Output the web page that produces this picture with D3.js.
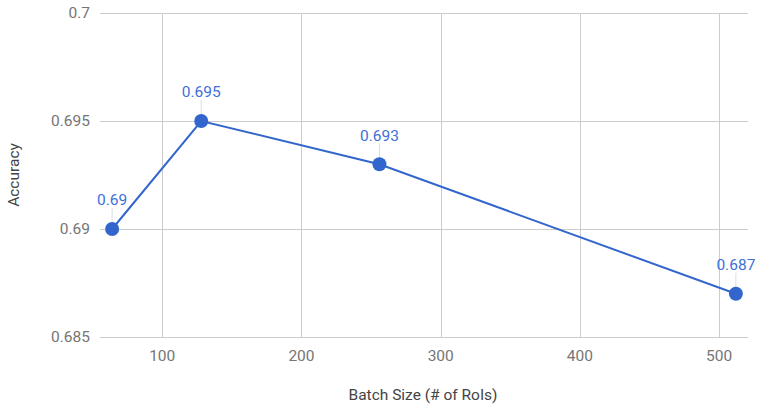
<!DOCTYPE html>
<html><head><meta charset="utf-8">
<script src="https://cdn.jsdelivr.net/npm/d3@7"></script>
<style>body{margin:0;background:#fff;} text{font-family:Roboto,Arial,sans-serif;}</style>
</head><body><svg id="c" width="759" height="409"></svg>
<script>
const batchSizes = [64, 128, 256, 512];
const accuracy = [0.69, 0.695, 0.693, 0.687];
const labels = ["0.69", "0.695", "0.693", "0.687"];
const yTicks = [0.685, 0.69, 0.695, 0.7];
const yTickLabels = ["0.685", "0.69", "0.695", "0.7"];
const xTicks = [100, 200, 300, 400, 500];

const svg = d3.select("#c");
const pL = 100, pR = 748, pT = 13, pB = 337;
const fs = 15.5;
const x = d3.scaleLinear().domain([55.3, 520.7]).range([pL, pR]);
const y = d3.scaleLinear().domain([0.685, 0.7]).range([pB, pT]);

const g = svg.append("g");
g.selectAll(".hg").data(yTicks).enter().append("line")
  .attr("x1", pL).attr("x2", pR)
  .attr("y1", d => Math.round(y(d)) + 0.5).attr("y2", d => Math.round(y(d)) + 0.5)
  .attr("stroke", "#cccccc").attr("stroke-width", 1);
g.selectAll(".vg").data(xTicks).enter().append("line")
  .attr("x1", d => Math.round(x(d)) + 0.5).attr("x2", d => Math.round(x(d)) + 0.5)
  .attr("y1", pT).attr("y2", pB)
  .attr("stroke", "#cccccc").attr("stroke-width", 1);

g.selectAll(".yl").data(yTicks).enter().append("text")
  .attr("x", 90).attr("y", d => y(d)).attr("dy", "0.35em")
  .attr("text-anchor", "end").attr("font-size", fs).attr("fill", "#757575")
  .text((d, i) => yTickLabels[i]);
g.selectAll(".xl").data(xTicks).enter().append("text")
  .attr("x", d => x(d)).attr("y", 356).attr("dy", "0.35em")
  .attr("text-anchor", "middle").attr("font-size", fs).attr("fill", "#757575")
  .text(d => d);

svg.append("text").attr("x", 423).attr("y", 395).attr("dy", "0.35em")
  .attr("text-anchor", "middle").attr("font-size", fs).attr("fill", "#444")
  .text("Batch Size (# of RoIs)");
svg.append("text").attr("transform", `translate(14,${(pT + pB) / 2}) rotate(-90)`)
  .attr("dy", "0.35em").attr("text-anchor", "middle").attr("font-size", fs).attr("fill", "#444")
  .text("Accuracy");

const data = batchSizes.map((b, i) => ({ x: b, y: accuracy[i], label: labels[i] }));

g.selectAll(".stem").data(data).enter().append("line")
  .attr("x1", d => x(d.x)).attr("x2", d => x(d.x))
  .attr("y1", d => y(d.y)).attr("y2", d => y(d.y) - 21)
  .attr("stroke", "#dddddd").attr("stroke-width", 1);

g.append("path").datum(data)
  .attr("d", d3.line().x(d => x(d.x)).y(d => y(d.y)))
  .attr("fill", "none").attr("stroke", "#3366cc").attr("stroke-width", 2);

g.selectAll(".pt").data(data).enter().append("circle")
  .attr("cx", d => x(d.x)).attr("cy", d => y(d.y)).attr("r", 7)
  .attr("fill", "#3366cc");

g.selectAll(".dl").data(data).enter().append("text")
  .attr("x", d => x(d.x)).attr("y", d => y(d.y) - 29).attr("dy", "0.35em")
  .attr("text-anchor", "middle").attr("font-size", fs).attr("fill", "#3f6fd8")
  .text(d => d.label);
</script></body></html>
